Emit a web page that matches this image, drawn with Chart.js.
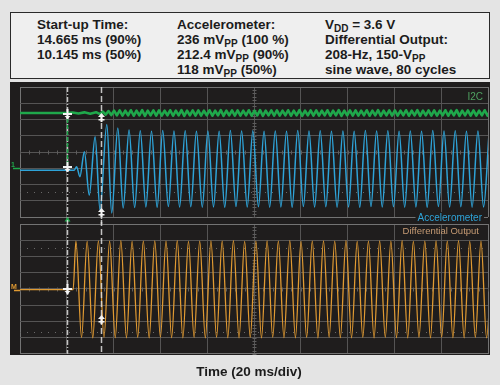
<!DOCTYPE html>
<html>
<head>
<meta charset="utf-8">
<script src="https://cdn.jsdelivr.net/npm/chart.js@4.4.1/dist/chart.umd.min.js"></script>
<style>
  html, body { margin: 0; padding: 0; }
  body {
    width: 500px; height: 385px; position: relative; overflow: hidden;
    background: #e4e4e4; font-family: "Liberation Sans", Arial, sans-serif;
  }
  #info {
    position: absolute; left: 10px; top: 12px; width: 478px; height: 65px;
    border: 1px solid #2a2a2a; background: #efefef;
  }
  .col {
    position: absolute; top: 4px; font-weight: bold; font-size: 13.5px;
    line-height: 15px; color: #1c1c1c; white-space: nowrap;
  }
  .col sub { font-size: 10px; vertical-align: -3px; line-height: 0; }
  #scope { position: absolute; left: 10px; top: 82px; width: 480px; height: 273px; background: #1f1d1d; }
  canvas { position: absolute; }
</style>
</head>
<body>
<div id="info">
  <div class="col" style="left:26px">Start-up Time:<br>14.665 ms (90%)<br>10.145 ms (50%)</div>
  <div class="col" style="left:166px">Accelerometer:<br>236 mV<sub>PP</sub> (100 %)<br>212.4 mV<sub>PP</sub> (90%)<br>118 mV<sub>PP</sub> (50%)</div>
  <div class="col" style="left:314px">V<sub>DD</sub> = 3.6 V<br>Differential Output:<br>208-Hz, 150-V<sub>PP</sub><br>sine wave, 80 cycles</div>
</div>
<div id="scope"></div>
<canvas id="upper" width="480" height="142" style="left:10px;top:82px"></canvas>
<canvas id="lower" width="480" height="165" style="left:10px;top:220px"></canvas>
<script>
// time in ms (20 ms/div, 10 div), level in divisions (8 div per panel)
const timeRange = [0, 200];
const divRange = [-4, 4];
const cursorTimes = [20, 34.665];

// I2C trace, [ms, div]
const i2cTrace = [
  [0, 2.4], [20, 2.4], [22.5, 2.43], [25, 2.37], [27.5, 2.44], [30, 2.36], [32.5, 2.45],
  [34.2, 2.33], [35.4, 2.49], [36.6, 2.3], [37.8, 2.52], [39.0, 2.27], [40.2, 2.55], [41.4, 2.25], [42.6, 2.56],
  [43.8, 2.24], [45.0, 2.54], [46.2, 2.26], [47.4, 2.57], [48.6, 2.23], [49.8, 2.55], [51.0, 2.25], [52.2, 2.58],
  [53.4, 2.22], [54.6, 2.55], [55.8, 2.25], [57.0, 2.56], [58.2, 2.24], [59.4, 2.56], [60.6, 2.24], [61.8, 2.54],
  [63.0, 2.26], [64.2, 2.57], [65.4, 2.23], [66.6, 2.55], [67.8, 2.25], [69.0, 2.58], [70.2, 2.22], [71.4, 2.55],
  [72.6, 2.25], [73.8, 2.56], [75.0, 2.24], [76.2, 2.56], [77.4, 2.24], [78.6, 2.54], [79.8, 2.26], [81.0, 2.57],
  [82.2, 2.23], [83.4, 2.55], [84.6, 2.25], [85.8, 2.58], [87.0, 2.22], [88.2, 2.55], [89.4, 2.25], [90.6, 2.56],
  [91.8, 2.24], [93.0, 2.56], [94.2, 2.24], [95.4, 2.54], [96.6, 2.26], [97.8, 2.57], [99.0, 2.23], [100.2, 2.55],
  [101.4, 2.25], [102.6, 2.58], [103.8, 2.22], [105.0, 2.55], [106.2, 2.25], [107.4, 2.56], [108.6, 2.24], [109.8, 2.56],
  [111.0, 2.24], [112.2, 2.54], [113.4, 2.26], [114.6, 2.57], [115.8, 2.23], [117.0, 2.55], [118.2, 2.25], [119.4, 2.58],
  [120.6, 2.22], [121.8, 2.55], [123.0, 2.25], [124.2, 2.56], [125.4, 2.24], [126.6, 2.56], [127.8, 2.24], [129.0, 2.54],
  [130.2, 2.26], [131.4, 2.57], [132.6, 2.23], [133.8, 2.55], [135.0, 2.25], [136.2, 2.58], [137.4, 2.22], [138.6, 2.55],
  [139.8, 2.25], [141.0, 2.56], [142.2, 2.24], [143.4, 2.56], [144.6, 2.24], [145.8, 2.54], [147.0, 2.26], [148.2, 2.57],
  [149.4, 2.23], [150.6, 2.55], [151.8, 2.25], [153.0, 2.58], [154.2, 2.22], [155.4, 2.55], [156.6, 2.25], [157.8, 2.56],
  [159.0, 2.24], [160.2, 2.56], [161.4, 2.24], [162.6, 2.54], [163.8, 2.26], [165.0, 2.57], [166.2, 2.23], [167.4, 2.55],
  [168.6, 2.25], [169.8, 2.58], [171.0, 2.22], [172.2, 2.55], [173.4, 2.25], [174.6, 2.56], [175.8, 2.24], [177.0, 2.56],
  [178.2, 2.24], [179.4, 2.54], [180.6, 2.26], [181.8, 2.57], [183.0, 2.23], [184.2, 2.55], [185.4, 2.25], [186.6, 2.58],
  [187.8, 2.22], [189.0, 2.55], [190.2, 2.25], [191.4, 2.56], [192.6, 2.24], [193.8, 2.56], [195.0, 2.24], [196.2, 2.54],
  [197.4, 2.26], [198.6, 2.57], [199.8, 2.23], [201.0, 2.55]
];

// accelerometer trace, peaks and troughs [ms, div]
const accelTrace = [
  [0, -1.13], [23.1, -1.13], [24.2, -0.9], [25.6, -1.52], [27.5, 0.02], [29.6, -2.65], [32.1, 0.94],
  [34.2, -3.57], [37.1, 1.7], [39.2, -3.75], [41.8, 1.48], [44.1, -3.45], [46.6, 1.35], [49.0, -3.42],
  [51.4, 1.3], [53.8, -3.38], [56.2, 1.28], [58.6, -3.4], [61.0, 1.32], [63.4, -3.36], [65.8, 1.29], [68.2, -3.39],
  [70.6, 1.31], [73.0, -3.37], [75.4, 1.27], [77.9, -3.4], [80.3, 1.3], [82.7, -3.38], [85.1, 1.28], [87.5, -3.4],
  [89.9, 1.32], [92.3, -3.36], [94.7, 1.29], [97.1, -3.39], [99.5, 1.31], [101.9, -3.37], [104.3, 1.27], [106.7, -3.4],
  [109.1, 1.3], [111.5, -3.38], [113.9, 1.28], [116.3, -3.4], [118.7, 1.32], [121.1, -3.36], [123.5, 1.29], [125.9, -3.39],
  [128.3, 1.31], [130.7, -3.37], [133.1, 1.27], [135.5, -3.4], [138.0, 1.3], [140.4, -3.38], [142.8, 1.28], [145.2, -3.4],
  [147.6, 1.32], [150.0, -3.36], [152.4, 1.29], [154.8, -3.39], [157.2, 1.31], [159.6, -3.37], [162.0, 1.27], [164.4, -3.4],
  [166.8, 1.3], [169.2, -3.38], [171.6, 1.28], [174.0, -3.4], [176.4, 1.32], [178.8, -3.36], [181.2, 1.29], [183.6, -3.39],
  [186.0, 1.31], [188.4, -3.37], [190.8, 1.27], [193.2, -3.4], [195.7, 1.3], [198.1, -3.38], [200.5, 1.28]
];

// differential output trace, peaks and troughs [ms, div]
const diffTrace = [
  [0, -0.05], [22.7, -0.05],
  [23.9, 2.95], [26.3, -3.0], [28.7, 2.93], [31.1, -3.02], [33.5, 2.96], [35.9, -2.98], [38.3, 2.94], [40.7, -3.0],
  [43.1, 2.97], [45.5, -3.01], [47.9, 2.93], [50.3, -2.99], [52.7, 2.95], [55.2, -3.02], [57.6, 2.96], [60.0, -2.98],
  [62.4, 2.94], [64.8, -3.0], [67.2, 2.97], [69.6, -3.01], [72.0, 2.93], [74.4, -2.99], [76.8, 2.95], [79.2, -3.02],
  [81.6, 2.96], [84.0, -2.98], [86.4, 2.94], [88.8, -3.0], [91.2, 2.97], [93.6, -3.01], [96.0, 2.93], [98.4, -2.99],
  [100.8, 2.95], [103.2, -3.02], [105.6, 2.96], [108.0, -2.98], [110.4, 2.94], [112.8, -3.0], [115.3, 2.97], [117.7, -3.01],
  [120.1, 2.93], [122.5, -2.99], [124.9, 2.95], [127.3, -3.02], [129.7, 2.96], [132.1, -2.98], [134.5, 2.94], [136.9, -3.0],
  [139.3, 2.97], [141.7, -3.01], [144.1, 2.93], [146.5, -2.99], [148.9, 2.95], [151.3, -3.02], [153.7, 2.96], [156.1, -2.98],
  [158.5, 2.94], [160.9, -3.0], [163.3, 2.97], [165.7, -3.01], [168.1, 2.93], [170.5, -2.99], [173.0, 2.95], [175.4, -3.02],
  [177.8, 2.96], [180.2, -2.98], [182.6, 2.94], [185.0, -3.0], [187.4, 2.97], [189.8, -3.01], [192.2, 2.93], [194.6, -2.99],
  [197.0, 2.95], [199.4, -3.02], [201.8, 2.96]
];

// cursor markers: [ms, div, kind]
const upperMarks = [[20, 2.34, "cross"], [20, -0.92, "cross"], [34.665, 2.38, "up"], [34.665, -3.45, "up"]];
const lowerMarks = [[20, 0, "cross"], [34.665, -1.6, "up"]];

const GREEN = "#1fa84b";
const BLUE = "#2ea3d8";
const ORANGE = "#e09a32";

const gridColor = (c) => {
  const s = c.scale;
  return c.tick && (c.tick.value === s.min || c.tick.value === s.max) ? "#737373" : "#555454";
};

const toXY = (arr) => arr.map(([x, y]) => ({ x, y }));

const scopeOverlay = {
  id: "scopeOverlay",
  beforeDatasetsDraw(chart, args, opts) {
    const { ctx, chartArea: a, scales: { x, y } } = chart;
    ctx.save();
    ctx.strokeStyle = "#5e5d5d";
    ctx.lineWidth = 1;
    const cy = Math.round(y.getPixelForValue(0)) + 0.5;
    const cx = Math.round(x.getPixelForValue(100)) + 0.5;
    ctx.beginPath();
    for (let t = timeRange[0]; t <= timeRange[1]; t += 4) {
      const px = Math.round(x.getPixelForValue(t)) + 0.5;
      ctx.moveTo(px, cy - 2);
      ctx.lineTo(px, cy + 2);
    }
    for (let v = divRange[0]; v <= divRange[1]; v += 0.2) {
      const py = Math.round(y.getPixelForValue(v)) + 0.5;
      ctx.moveTo(cx - 2, py);
      ctx.lineTo(cx + 2, py);
    }
    ctx.stroke();
    ctx.setLineDash([1, 6]);
    ctx.strokeStyle = "#6a6969";
    (opts.dotted || []).forEach((v) => {
      const py = Math.round(y.getPixelForValue(v)) + 0.5;
      ctx.beginPath();
      ctx.moveTo(a.left, py);
      ctx.lineTo(a.right, py);
      ctx.stroke();
    });
    ctx.restore();
  },
  afterDatasetsDraw(chart, args, opts) {
    const { ctx, chartArea: a, scales: { x, y } } = chart;
    const top = opts.panel === "upper" ? a.top : 0;
    const bottom = opts.panel === "upper" ? chart.height : a.bottom;
    ctx.save();

    // cursors
    cursorTimes.forEach((t, i) => {
      const px = Math.round(x.getPixelForValue(t)) + 0.5;
      ctx.strokeStyle = "rgba(225,225,225,0.85)";
      ctx.lineWidth = 1.5;
      ctx.setLineDash(i === 0 ? [5, 2, 1, 2] : [6, 3]);
      ctx.beginPath();
      ctx.moveTo(px, top);
      ctx.lineTo(px, bottom);
      ctx.stroke();
    });
    if (opts.panel === "upper") {
      const px = Math.round(x.getPixelForValue(cursorTimes[0])) + 0.5;
      ctx.strokeStyle = GREEN;
      ctx.setLineDash([4, 2]);
      ctx.beginPath();
      ctx.moveTo(px, y.getPixelForValue(2.4));
      ctx.lineTo(px, y.getPixelForValue(-0.75));
      ctx.stroke();
    }
    ctx.setLineDash([]);

    // markers
    ctx.fillStyle = "#f4f4f4";
    ctx.strokeStyle = "#f4f4f4";
    (opts.marks || []).forEach(([t, v, kind]) => {
      const px = Math.round(x.getPixelForValue(t)) + 0.5;
      const py = Math.round(y.getPixelForValue(v));
      if (kind === "cross") {
        ctx.fillRect(px - 4.5, py - 1, 9, 2);
        ctx.fillRect(px - 1, py - 5, 2, 10);
        ctx.beginPath();
        ctx.moveTo(px - 3, py + 2);
        ctx.lineTo(px + 3, py + 2);
        ctx.lineTo(px, py + 5);
        ctx.closePath();
        ctx.fill();
      } else {
        ctx.beginPath();
        ctx.moveTo(px, py);
        ctx.lineTo(px - 3.5, py + 4);
        ctx.lineTo(px + 3.5, py + 4);
        ctx.closePath();
        ctx.fill();
        ctx.fillRect(px - 1, py + 3, 2, 6);
        ctx.fillRect(px - 3, py + 6, 6, 1.5);
      }
    });

    // left reference markers
    const ref = opts.ref;
    if (ref) {
      const py = Math.round(y.getPixelForValue(ref.level)) + 0.5;
      ctx.strokeStyle = ref.color;
      ctx.lineWidth = 1.5;
      ctx.beginPath();
      ctx.moveTo(ref.from, py);
      ctx.lineTo(a.left, py);
      ctx.stroke();
      ctx.fillStyle = ref.color;
      ctx.font = "bold 7px 'Liberation Sans', Arial, sans-serif";
      ctx.textBaseline = "alphabetic";
      ctx.textAlign = "left";
      ctx.fillText(ref.text, 1, py - 2);
    }

    // channel labels
    ctx.textAlign = "right";
    ctx.textBaseline = "middle";
    (opts.labels || []).forEach((l) => {
      ctx.font = `${l.size}px 'Liberation Sans', Arial, sans-serif`;
      const ly = l.fromBottom ? a.bottom + l.dy : a.top + l.dy;
      const lx = a.right - l.dx;
      if (l.bg) {
        const w = ctx.measureText(l.text).width;
        ctx.fillStyle = "#1f1d1d";
        ctx.fillRect(lx - w - 2, ly - 6, w + 4, 12);
      }
      ctx.fillStyle = l.color;
      ctx.fillText(l.text, lx, ly);
    });

    // trigger marker between the panels
    if (opts.panel === "upper") {
      const px = Math.round(x.getPixelForValue(cursorTimes[0])) + 0.5;
      ctx.fillStyle = GREEN;
      ctx.beginPath();
      ctx.moveTo(px, a.bottom);
      ctx.lineTo(px - 3, a.bottom + 4.5);
      ctx.lineTo(px + 3, a.bottom + 4.5);
      ctx.closePath();
      ctx.fill();
    }
    ctx.restore();
  }
};

function scopeScales() {
  return {
    x: {
      type: "linear", min: timeRange[0], max: timeRange[1],
      ticks: { display: false, stepSize: 20 },
      grid: { color: gridColor, lineWidth: 1, drawTicks: false },
      border: { display: false }
    },
    y: {
      type: "linear", min: divRange[0], max: divRange[1],
      ticks: { display: false, stepSize: 1 },
      grid: { color: gridColor, lineWidth: 1, drawTicks: false },
      border: { display: false },
      afterFit: (s) => { s.width = 10; }
    }
  };
}

const traceStyle = { pointRadius: 0, borderJoinStyle: "round", borderCapStyle: "round" };
const sineStyle = { ...traceStyle, cubicInterpolationMode: "monotone" };

new Chart(document.getElementById("upper"), {
  type: "line",
  data: {
    datasets: [
      { label: "I2C", data: toXY(i2cTrace), borderColor: GREEN, borderWidth: 2.6, tension: 0, ...traceStyle },
      { label: "Accelerometer", data: toXY(accelTrace), borderColor: BLUE, borderWidth: 1.5, ...sineStyle }
    ]
  },
  options: {
    responsive: false, devicePixelRatio: 1, animation: false,
    layout: { padding: { left: 0, right: 2, top: 5, bottom: 7 } },
    scales: scopeScales(),
    plugins: {
      legend: { display: false }, tooltip: { enabled: false },
      scopeOverlay: {
        panel: "upper",
        marks: upperMarks,
        dotted: [-2.45],
        ref: { level: -0.98, from: 3, color: GREEN, text: "1" },
        labels: [
          { text: "I2C", color: "#4fa262", size: 10, dx: 5, dy: 10 },
          { text: "Accelerometer", color: BLUE, size: 10, dx: 6, dy: 1, fromBottom: true, bg: true }
        ]
      }
    }
  },
  plugins: [scopeOverlay]
});

new Chart(document.getElementById("lower"), {
  type: "line",
  data: {
    datasets: [
      { label: "Differential Output", data: toXY(diffTrace), borderColor: ORANGE, borderWidth: 1.3, ...sineStyle }
    ]
  },
  options: {
    responsive: false, devicePixelRatio: 1, animation: false,
    layout: { padding: { left: 0, right: 2, top: 4, bottom: 0 } },
    scales: scopeScales(),
    plugins: {
      legend: { display: false }, tooltip: { enabled: false },
      title: {
        display: true, position: "bottom", text: "Time (20 ms/div)", color: "#1c1c1c",
        font: { family: "'Liberation Sans', Arial, sans-serif", size: 13.5, weight: "bold" },
        padding: { top: 10, bottom: 5 }
      },
      scopeOverlay: {
        panel: "lower",
        marks: lowerMarks,
        dotted: [2.52, -2.65],
        ref: { level: -0.05, from: 4, color: ORANGE, text: "M" },
        labels: [
          { text: "Differential Output", color: "#c69b74", size: 9.5, dx: 9, dy: 7.5 }
        ]
      }
    }
  },
  plugins: [scopeOverlay]
});
</script>
</body>
</html>
